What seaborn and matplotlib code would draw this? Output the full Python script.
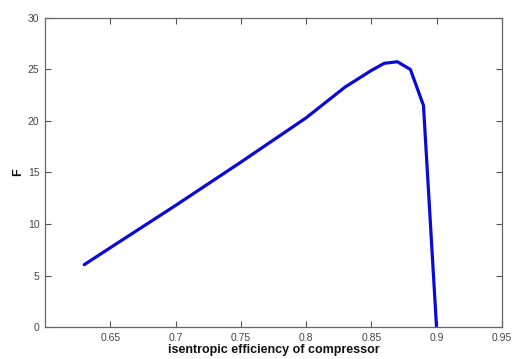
import matplotlib
matplotlib.use("Agg")
import matplotlib.pyplot as plt
import seaborn as sns
import pandas as pd

efficiency = [0.63, 0.65, 0.70, 0.75, 0.80, 0.83, 0.85, 0.86, 0.87, 0.88, 0.89, 0.90]
F_values = [6.05, 7.7, 11.8, 16.0, 20.3, 23.3, 24.9, 25.6, 25.75, 25.0, 21.5, 0.0]
x_ticks = [0.65, 0.70, 0.75, 0.80, 0.85, 0.90, 0.95]
x_tick_labels = ["0.65", "0.7", "0.75", "0.8", "0.85", "0.9", "0.95"]
y_ticks = [0, 5, 10, 15, 20, 25, 30]

sns.set_style("white")
plt.rcParams["font.family"] = ["Liberation Sans", "DejaVu Sans"]

df = pd.DataFrame({"eff": efficiency, "F": F_values})

fig = plt.figure(figsize=(5.12, 3.59), dpi=100)
ax = fig.add_axes([0.088, 0.089, 0.892, 0.861])
sns.lineplot(data=df, x="eff", y="F", ax=ax, color="#0a0ad8", linewidth=2.3, sort=False)

ax.set_xlim(0.6, 0.95)
ax.set_ylim(0, 30)
ax.set_xticks(x_ticks)
ax.set_xticklabels(x_tick_labels)
ax.set_yticks(y_ticks)
ax.tick_params(direction="in", length=4, width=0.8, color="#555555",
               labelsize=7.5, labelcolor="#444444", top=True, right=True,
               bottom=True, left=True, pad=4)
for s in ax.spines.values():
    s.set_visible(True)
    s.set_color("#666666")
    s.set_linewidth(0.9)
ax.set_xlabel("isentropic efficiency of compressor", fontsize=9, fontweight="bold",
              labelpad=1, color="#111111")
ax.set_ylabel("F", fontsize=9, fontweight="bold", labelpad=3, color="#111111")

fig.savefig("out.png", dpi=100)
